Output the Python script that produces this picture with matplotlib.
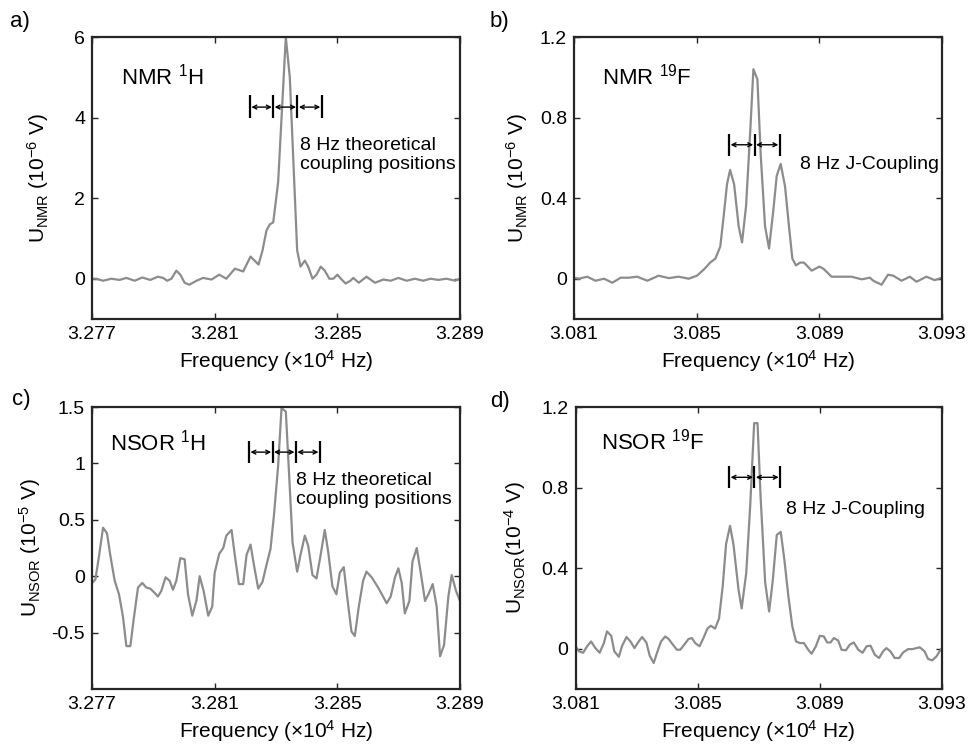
import numpy as np
import matplotlib
matplotlib.use("Agg")
import matplotlib.pyplot as plt

plt.rcParams['font.family'] = ['Liberation Sans', 'DejaVu Sans']
plt.rcParams['mathtext.fontset'] = 'custom'
plt.rcParams['mathtext.rm'] = 'Liberation Sans'
plt.rcParams['mathtext.it'] = 'Liberation Sans:italic'
plt.rcParams['mathtext.bf'] = 'Liberation Sans:bold'

# ---- data (frequency in 10^4 Hz) ----
nmr_h_freq = [3.27700, 3.27714, 3.27736, 3.27763, 3.27790, 3.27812, 3.27839, 3.27864,
              3.27890, 3.27915, 3.27932, 3.27945, 3.27959, 3.27975, 3.27988, 3.28002,
              3.28017, 3.28041, 3.28062, 3.28090, 3.28115, 3.28138, 3.28166, 3.28193,
              3.28217, 3.28243, 3.28256, 3.28269, 3.28280, 3.28291, 3.28307, 3.28332,
              3.28345, 3.28369, 3.28380, 3.28394, 3.28405, 3.28419, 3.28432, 3.28446,
              3.28459, 3.28474, 3.28487, 3.28500, 3.28514, 3.28527, 3.28543, 3.28552,
              3.28570, 3.28595, 3.28623, 3.28650, 3.28674, 3.28699, 3.28726, 3.28753,
              3.28780, 3.28804, 3.28829, 3.28856, 3.28884, 3.28900]
nmr_h_val = [0.00, 0.00, -0.05, 0.00, -0.03, 0.02, -0.05, 0.03,
             -0.03, 0.05, 0.02, -0.05, 0.00, 0.20, 0.10, -0.10,
             -0.15, -0.05, 0.02, -0.02, 0.10, 0.00, 0.25, 0.18,
             0.55, 0.35, 0.70, 1.20, 1.35, 1.40, 2.40, 6.00,
             5.00, 0.70, 0.30, 0.45, 0.30, 0.00, 0.10, 0.30,
             0.20, 0.00, 0.00, 0.10, -0.02, -0.12, -0.05, 0.02,
             -0.10, 0.05, -0.10, -0.02, -0.05, 0.02, -0.05, 0.00,
             -0.05, 0.00, -0.03, 0.00, -0.05, 0.00]

nmr_f_freq = [3.08100, 3.08116, 3.08143, 3.08170, 3.08198, 3.08225, 3.08252, 3.08279,
              3.08306, 3.08339, 3.08376, 3.08409, 3.08441, 3.08474, 3.08501, 3.08523,
              3.08544, 3.08561, 3.08577, 3.08588, 3.08599, 3.08609, 3.08622, 3.08637,
              3.08648, 3.08661, 3.08675, 3.08685, 3.08698, 3.08709, 3.08723, 3.08736,
              3.08750, 3.08761, 3.08774, 3.08788, 3.08802, 3.08812, 3.08824, 3.08837,
              3.08850, 3.08875, 3.08900, 3.08913, 3.08940, 3.08967, 3.09005, 3.09038,
              3.09065, 3.09076, 3.09103, 3.09124, 3.09141, 3.09168, 3.09195, 3.09217,
              3.09249, 3.09276, 3.09300]
nmr_f_val = [0.005, 0.0, 0.01, -0.01, 0.0, -0.02, 0.005, 0.005,
             0.01, -0.01, 0.015, 0.003, 0.01, 0.0, 0.015, 0.045,
             0.08, 0.10, 0.16, 0.31, 0.47, 0.54, 0.47, 0.26,
             0.18, 0.36, 0.74, 1.04, 0.99, 0.61, 0.26, 0.15,
             0.34, 0.51, 0.57, 0.46, 0.245, 0.10, 0.066, 0.08,
             0.08, 0.04, 0.06, 0.05, 0.01, 0.01, 0.01, -0.003,
             0.005, -0.01, -0.03, 0.02, 0.015, -0.01, 0.01, -0.015,
             0.01, -0.007, 0.005]

nsor_h_freq = [3.27700, 3.27711, 3.27723, 3.27736, 3.27749, 3.27760, 3.27774, 3.27788,
               3.27801, 3.27812, 3.27825, 3.27836, 3.27850, 3.27864, 3.27877, 3.27890,
               3.27905, 3.27915, 3.27926, 3.27940, 3.27953, 3.27964, 3.27975, 3.27988,
               3.28002, 3.28013, 3.28027, 3.28041, 3.28051, 3.28064, 3.28079, 3.28092,
               3.28100, 3.28115, 3.28128, 3.28138, 3.28155, 3.28166, 3.28179, 3.28193,
               3.28204, 3.28217, 3.28228, 3.28242, 3.28256, 3.28269, 3.28282, 3.28293,
               3.28307, 3.28318, 3.28332, 3.28343, 3.28354, 3.28369, 3.28380, 3.28394,
               3.28405, 3.28419, 3.28432, 3.28445, 3.28459, 3.28470, 3.28484, 3.28497,
               3.28508, 3.28521, 3.28532, 3.28546, 3.28557, 3.28570, 3.28584, 3.28595,
               3.28612, 3.28633, 3.28661, 3.28674, 3.28688, 3.28699, 3.28710, 3.28720,
               3.28735, 3.28745, 3.28759, 3.28772, 3.28786, 3.28797, 3.28811, 3.28824,
               3.28835, 3.28848, 3.28862, 3.28873, 3.28887, 3.28900]
nsor_h_val = [-0.06, -0.03, 0.18, 0.43, 0.38, 0.18, -0.04, -0.16,
              -0.36, -0.62, -0.62, -0.38, -0.10, -0.06, -0.10, -0.11,
              -0.15, -0.18, -0.13, -0.01, -0.04, -0.12, -0.04, 0.16,
              0.15, -0.16, -0.35, -0.21, 0.00, -0.13, -0.35, -0.27,
              0.03, 0.20, 0.25, 0.36, 0.41, 0.18, -0.07, -0.07,
              0.19, 0.28, 0.10, -0.11, -0.05, 0.10, 0.24, 0.53,
              0.98, 1.49, 1.46, 0.89, 0.30, 0.04, 0.19, 0.36,
              0.27, 0.01, -0.02, 0.18, 0.41, 0.22, -0.09, -0.16,
              0.03, 0.08, -0.18, -0.49, -0.53, -0.27, -0.04, 0.04,
              -0.01, -0.10, -0.24, -0.18, -0.01, 0.07, -0.06, -0.33,
              -0.22, 0.13, 0.25, 0.03, -0.22, -0.16, -0.07, -0.27,
              -0.71, -0.61, -0.18, 0.01, -0.13, -0.22]

nsor_f_freq = [3.08100, 3.08111, 3.08125, 3.08138, 3.08151, 3.08165, 3.08179, 3.08193,
               3.08203, 3.08217, 3.08227, 3.08242, 3.08252, 3.08267, 3.08280, 3.08293,
               3.08307, 3.08318, 3.08332, 3.08343, 3.08356, 3.08367, 3.08380, 3.08394,
               3.08405, 3.08419, 3.08432, 3.08443, 3.08456, 3.08470, 3.08481, 3.08492,
               3.08506, 3.08519, 3.08532, 3.08543, 3.08557, 3.08570, 3.08582, 3.08593,
               3.08606, 3.08617, 3.08634, 3.08644, 3.08659, 3.08672, 3.08685, 3.08696,
               3.08706, 3.08721, 3.08734, 3.08746, 3.08759, 3.08772, 3.08784, 3.08797,
               3.08810, 3.08822, 3.08835, 3.08848, 3.08862, 3.08873, 3.08887, 3.08900,
               3.08913, 3.08924, 3.08935, 3.08946, 3.08960, 3.08971, 3.08985, 3.08998,
               3.09011, 3.09026, 3.09040, 3.09053, 3.09066, 3.09080, 3.09094, 3.09107,
               3.09118, 3.09131, 3.09145, 3.09160, 3.09173, 3.09189, 3.09203, 3.09227,
               3.09243, 3.09254, 3.09268, 3.09282, 3.09292, 3.09300]
nsor_f_val = [0.012, -0.013, -0.02, 0.012, 0.036, 0.003, -0.02, 0.028,
              0.086, 0.064, -0.013, -0.04, 0.012, 0.058, 0.036, 0.003,
              0.036, 0.058, 0.031, -0.035, -0.071, -0.02, 0.036, 0.061,
              0.048, 0.02, -0.005, -0.005, 0.02, 0.048, 0.053, 0.028,
              0.012, 0.053, 0.10, 0.114, 0.10, 0.15, 0.31, 0.52,
              0.61, 0.52, 0.29, 0.20, 0.375, 0.71, 1.12, 1.12,
              0.755, 0.33, 0.185, 0.34, 0.565, 0.58, 0.44, 0.26,
              0.11, 0.036, 0.028, 0.028, -0.005, -0.025, 0.012, 0.064,
              0.061, 0.031, 0.031, 0.053, 0.041, -0.005, -0.008, 0.02,
              0.031, -0.005, -0.02, 0.012, 0.015, -0.03, -0.046, -0.013,
              0.003, -0.013, -0.046, -0.046, -0.018, -0.002, -0.002, 0.007,
              -0.013, -0.05, -0.058, -0.038, -0.013, 0.003]

# coupling marker positions (10^4 Hz)
h_bars_a = [3.28215, 3.28291, 3.28370, 3.28449]
h_bars_c = [3.28212, 3.28289, 3.28365, 3.28443]
f_bars_b = [3.08606, 3.08689, 3.08771]
f_bars_d = [3.08603, 3.08686, 3.08770]

panels = [
    dict(tag='a)', freq=nmr_h_freq, val=nmr_h_val, xlim=(3.277, 3.289),
         xticks=[3.277, 3.281, 3.285, 3.289], xlabels=['3.277', '3.281', '3.285', '3.289'],
         ylim=(-1, 6), yticks=[0, 2, 4, 6], ylabels=['0', '2', '4', '6'],
         ylabel=r'U$_{\mathrm{NMR}}$ (10$^{-6}$ V)', ylx=-0.147,
         name=r'NMR $^{1}$H', name_xy=(3.27796, 4.82),
         bars=h_bars_a, bar_y=(3.98, 4.55), arrow_y=4.26,
         note='8 Hz theoretical\ncoupling positions', note_xy=(3.28378, 3.08),
         pos=[92, 37, 368, 282], tag_xy=(10, 22)),
    dict(tag='b)', freq=nmr_f_freq, val=nmr_f_val, xlim=(3.081, 3.093),
         xticks=[3.081, 3.085, 3.089, 3.093], xlabels=['3.081', '3.085', '3.089', '3.093'],
         ylim=(-0.2, 1.2), yticks=[0, 0.4, 0.8, 1.2], ylabels=['0', '0.4', '0.8', '1.2'],
         ylabel=r'U$_{\mathrm{NMR}}$ (10$^{-6}$ V)', ylx=-0.155,
         name=r'NMR $^{19}$F', name_xy=(3.08192, 0.964),
         bars=f_bars_b, bar_y=(0.61, 0.72), arrow_y=0.665,
         note='8 Hz J-Coupling', note_xy=(3.08837, 0.567),
         pos=[574, 37, 368, 282], tag_xy=(490, 22)),
    dict(tag='c)', freq=nsor_h_freq, val=nsor_h_val, xlim=(3.277, 3.289),
         xticks=[3.277, 3.281, 3.285, 3.289], xlabels=['3.277', '3.281', '3.285', '3.289'],
         ylim=(-1, 1.5), yticks=[-0.5, 0, 0.5, 1, 1.5], ylabels=['-0.5', '0', '0.5', '1', '1.5'],
         ylabel=r'U$_{\mathrm{NSOR}}$ (10$^{-5}$ V)', ylx=-0.168,
         name=r'NSOR $^{1}$H', name_xy=(3.27758, 1.11),
         bars=h_bars_c, bar_y=(1.0, 1.2), arrow_y=1.10,
         note='8 Hz theoretical\ncoupling positions', note_xy=(3.28365, 0.765),
         pos=[92, 407, 368, 282], tag_xy=(12, 400)),
    dict(tag='d)', freq=nsor_f_freq, val=nsor_f_val, xlim=(3.081, 3.093),
         xticks=[3.081, 3.085, 3.089, 3.093], xlabels=['3.081', '3.085', '3.089', '3.093'],
         ylim=(-0.2, 1.2), yticks=[0, 0.4, 0.8, 1.2], ylabels=['0', '0.4', '0.8', '1.2'],
         ylabel=r'U$_{\mathrm{NSOR}}$(10$^{-4}$ V)', ylx=-0.165,
         name=r'NSOR $^{19}$F', name_xy=(3.08182, 0.99),
         bars=f_bars_d, bar_y=(0.797, 0.907), arrow_y=0.851,
         note='8 Hz J-Coupling', note_xy=(3.08789, 0.69),
         pos=[575.5, 407, 366.5, 282], tag_xy=(490, 402)),
]

W, H = 972, 747
fig = plt.figure(figsize=(W / 100, H / 100), dpi=100)
axis_col = '#262626'

for p in panels:
    l, t, w, h = p['pos']
    ax = fig.add_axes([l / W, 1 - (t + h) / H, w / W, h / H])
    ax.plot(p['freq'], p['val'], color='#8c8c8c', lw=1.6)
    ax.set_xlim(*p['xlim'])
    ax.set_ylim(*p['ylim'])
    ax.set_xticks(p['xticks'])
    ax.set_xticklabels(p['xlabels'])
    ax.set_yticks(p['yticks'])
    ax.set_yticklabels(p['ylabels'])
    ax.tick_params(direction='in', top=True, right=True, length=4, width=1,
                   labelsize=14, pad=5, color=axis_col)
    for s in ax.spines.values():
        s.set_linewidth(1.6)
        s.set_color(axis_col)
    ax.set_xlabel(r'Frequency (×10$^{4}$ Hz)', fontsize=15, labelpad=4)
    ax.set_ylabel(p['ylabel'], fontsize=15, va='center')
    ax.yaxis.set_label_coords(p['ylx'], 0.5)

    ax.text(p['name_xy'][0], p['name_xy'][1], p['name'], fontsize=16, va='baseline')
    ax.vlines(p['bars'], p['bar_y'][0], p['bar_y'][1], color='black', lw=1.6)
    for x0, x1 in zip(p['bars'][:-1], p['bars'][1:]):
        ax.annotate('', xy=(x1, p['arrow_y']), xytext=(x0, p['arrow_y']),
                    arrowprops=dict(arrowstyle='<->', lw=1.0, color='black',
                                    mutation_scale=7, shrinkA=1, shrinkB=1))
    ax.text(p['note_xy'][0], p['note_xy'][1], p['note'], fontsize=14,
            va='center', linespacing=1.15)

    fig.text(p['tag_xy'][0] / W, 1 - p['tag_xy'][1] / H, p['tag'], fontsize=16,
             va='center', ha='left')

fig.savefig('out.png', dpi=100)
